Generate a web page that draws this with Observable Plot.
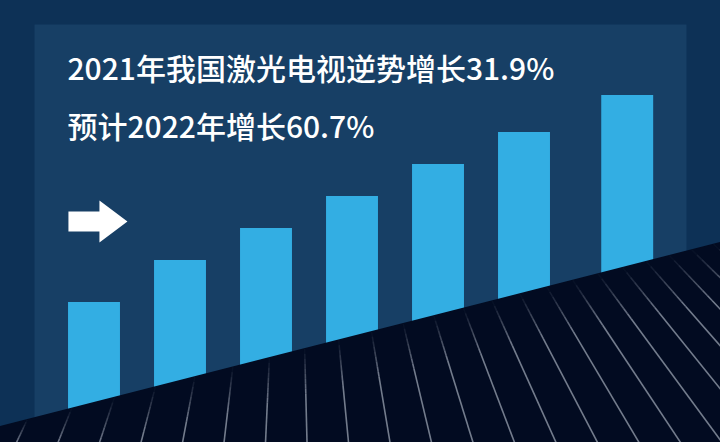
<!DOCTYPE html>
<html>
<head>
<meta charset="utf-8">
<script src="https://cdn.jsdelivr.net/npm/d3@7"></script>
<script src="https://cdn.jsdelivr.net/npm/@observablehq/plot@0.6"></script>
<style>
  html, body { margin: 0; padding: 0; background: #0d3156; }
  #chart svg { display: block; }
</style>
</head>
<body>
<div id="chart"></div>
<script>
// ---- data ----
const titleLines = ["2021年我国激光电视逆势增长31.9%", "预计2022年增长60.7%"];
const barPos = [0, 1, 2, 3, 4, 5, 6.2];
const barValues = [140, 182, 214, 246, 278, 310, 347];
const arrowPoint = [{pos: 0.04, value: 221}];
const xDomain = [-1.093, 7.279];
const yDomain = [0, 442];
const floorEdge = [16, 200];          // floor height at left / right of the picture
const gridStart = -0.907, gridStep = 0.4826, gridCount = 25;
const vanish = {pos: 2.299, value: 585};
const fadeLength = 45, fadeSteps = 9;

const bars = barPos.map((p, i) => ({pos: p, value: barValues[i]}));
const floor = [{pos: xDomain[0], top: floorEdge[0]}, {pos: xDomain[1], top: floorEdge[1]}];

// perspective grid lines, clipped at the floor edge, fading in just below it
const slope = (floorEdge[1] - floorEdge[0]) / (xDomain[1] - xDomain[0]);
const gridSegments = [];
d3.range(gridCount).forEach(k => {
  const b = gridStart + gridStep * k;
  const t = (floorEdge[0] + slope * (b - xDomain[0])) / (vanish.value - slope * (vanish.pos - b));
  const xe = b + t * (vanish.pos - b), ve = t * vanish.value;
  const pt = f => ({x: xe + (b - xe) * f, y: ve * (1 - f)});
  const f = Math.min(1, fadeLength / ve);
  for (let s = 0; s < fadeSteps; s++) {
    const a = pt(f * s / fadeSteps), c = pt(f * (s + 1) / fadeSteps);
    gridSegments.push({x1: a.x, y1: a.y, x2: c.x, y2: c.y, o: (s + 0.5) / fadeSteps});
  }
  const a = pt(f), c = pt(1);
  gridSegments.push({x1: a.x, y1: a.y, x2: c.x, y2: c.y, o: 1});
});

const arrowSymbol = {
  draw(ctx) {
    ctx.moveTo(-29.5, -10);
    ctx.lineTo(1.5, -10);
    ctx.lineTo(1.5, -21);
    ctx.lineTo(29.5, 0);
    ctx.lineTo(1.5, 21);
    ctx.lineTo(1.5, 10);
    ctx.lineTo(-29.5, 10);
    ctx.closePath();
  }
};

const font = "'Noto Sans CJK SC', 'Noto Sans', sans-serif";

const chart = Plot.plot({
  width: 720,
  height: 442,
  margin: 0,
  style: {background: "#0d3156", fontFamily: font},
  x: {type: "linear", domain: xDomain, axis: null},
  y: {type: "linear", domain: yDomain, axis: null},
  opacity: {type: "identity"},
  marks: [
    Plot.frame({fill: "#173f65", stroke: "none", insetLeft: 34, insetRight: 34, insetTop: 24}),
    Plot.rectY(bars, {x1: d => d.pos - 0.302, x2: d => d.pos + 0.302, y1: 0, y2: "value", fill: "#33aee3"}),
    Plot.areaY(floor, {x: "pos", y1: 0, y2: "top", fill: "#020b21"}),
    Plot.link(gridSegments, {x1: "x1", y1: "y1", x2: "x2", y2: "y2", stroke: "#9098a8", strokeOpacity: d => 0.8 * d.o, strokeWidth: 1.6, strokeLinecap: "butt"}),
    Plot.dot(arrowPoint, {x: "pos", y: "value", symbol: arrowSymbol, r: 1, fill: "white", stroke: "none"}),
    Plot.text([titleLines[0]], {text: d => d, frameAnchor: "top-left", dx: 67, dy: 70, textAnchor: "start", lineAnchor: "middle", fill: "white", fontSize: 30, fontWeight: 500}),
    Plot.text([titleLines[1]], {text: d => d, frameAnchor: "top-left", dx: 67, dy: 128, textAnchor: "start", lineAnchor: "middle", fill: "white", fontSize: 30, fontWeight: 500})
  ]
});

document.getElementById("chart").append(chart);
</script>
</body>
</html>
